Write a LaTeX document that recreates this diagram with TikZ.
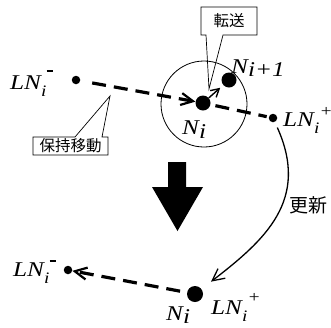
\documentclass[tikz,border=0pt]{standalone}
\usepackage{fontspec}
\setmainfont{Liberation Serif}
\newfontfamily\lblfont[FakeStretch=1.2]{Liberation Serif Italic}
\newfontfamily\cjk{Noto Sans CJK JP}
\usetikzlibrary{arrows.meta}
\newcommand\subi{\rlap{\raisebox{-7pt}{\fontsize{16}{16}\selectfont i}}}
\newcommand\supbar[1]{\raisebox{#1}{\rule{6pt}{2pt}}}
\newcommand\supplus[1]{\raisebox{#1}{\fontsize{16}{16}\selectfont +}}
\begin{document}
\begin{tikzpicture}[x=1pt,y=-1pt,
  bigdot/.style={circle,fill=black,inner sep=0pt,minimum size=15pt},
  smalldot/.style={circle,fill=black,inner sep=0pt,minimum size=8.5pt},
  dashln/.style={line width=3.2pt,dash pattern=on 14pt off 8pt},
  barb/.style={-{Straight Barb[length=12pt,width=12pt,line width=2.2pt]}},
  lbl/.style={font=\fontsize{21}{24}\lblfont, inner sep=0pt, anchor=base west},
  jp/.style={font=\fontsize{15.5}{18}\selectfont\cjk, inner sep=0pt},
  callout/.style={draw, line width=0.7pt}
]
\useasboundingbox (0,0) rectangle (331,327);
% dots
\node[bigdot] (ni) at (203,103) {};
\node[bigdot] (nip) at (229,80) {};
\node[smalldot] (lnm) at (76,80) {};
\node[smalldot] (lnp) at (273,118) {};
\node[bigdot,minimum size=16pt] (nib) at (195,294) {};
\node[smalldot] (lnmb) at (68,270) {};
% ring
\node[circle, draw, line width=0.8pt, minimum size=86pt, inner sep=0pt] (ring) at (204,104) {};
% dashed connectors
\draw[dashln, barb, shorten <=12pt] (lnm) -- (ni);
\draw[dashln, shorten <=5pt, shorten >=2pt] (ni) -- (lnp);
\draw[dashln, barb, shorten <=7pt] (nib) -- (lnmb);
% callouts
\draw[callout] (201,7) -- (257,7) -- (257,35) -- (223,35) -- (209,89) -- (206,35) -- (201,35) -- cycle;
\node[jp] (tensou) at (229,21) {転送};
\draw[callout] (33,137) -- (75,137) -- (110,96) -- (102,137) -- (108,137) -- (108,155) -- (33,155) -- cycle;
\node[jp] (hoji) at (70.5,146) {保持移動};
% transfer arrow
\draw[line width=1.4pt, -{Straight Barb[length=8pt,width=9pt]}, shorten >=4pt] (ni) -- (nip);
% big arrow
\fill (168,162) -- (186,162) -- (186,187) -- (203,187) -- (177.5,231) -- (152,187) -- (168,187) -- cycle;
% update arrow
\draw[line width=1.3pt, -{Straight Barb[length=12pt,width=12pt]}, shorten <=6pt, shorten >=12pt] (lnp) .. controls (310,200) and (265,240) .. (nib);
\node[jp, font=\fontsize{19}{22}\selectfont\cjk] (koushin) at (308,205) {更新};
% labels
\node[lbl] (tlnm) at (10,89) {LN\subi\kern5.5pt\supbar{17pt}};
\node[lbl] (tnip) at (231,73) {N\raisebox{-3pt}{i+1}};
\node[lbl] (tni) at (182,134) {N\raisebox{-4pt}{i}};
\node[lbl] (tlnp) at (283,126) {LN\subi\kern5.5pt\supplus{10pt}};
\node[lbl] (blnm) at (13,276) {LN\subi\kern5.5pt\supbar{14pt}};
\node[lbl] (bni) at (166,320) {N\raisebox{-3pt}{i}};
\node[lbl] (blnp) at (211,314) {LN\subi\kern5.5pt\supplus{12pt}};
\end{tikzpicture}
\end{document}
